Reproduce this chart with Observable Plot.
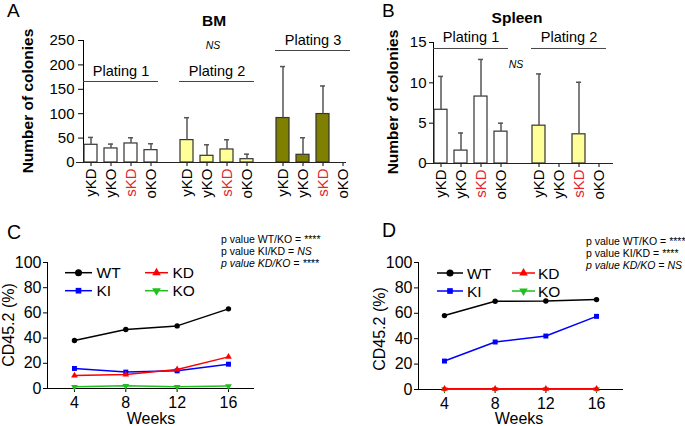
<!DOCTYPE html>
<html><head><meta charset="utf-8">
<script src="https://cdn.jsdelivr.net/npm/d3@7"></script>
<script src="https://cdn.jsdelivr.net/npm/@observablehq/plot@0.6"></script>
<style>
body{margin:0;background:#fff;}
#root{position:relative;width:685px;height:426px;overflow:hidden;background:#fff;font-family:"Liberation Sans",Arial,Helvetica,sans-serif;}
.layer{position:absolute;}
</style></head><body><div id="root"></div>
<script>
// ---------------- data ----------------
const genotypes = ["yKD", "yKO", "sKD", "oKO"];
const bmPlatings = ["Plating 1", "Plating 2", "Plating 3"];
const bmMean = [36.3, 28.8, 39.0, 25.3,   45.9, 13.7, 26.7, 6.8,   91.1, 15.8, 99.3, 0];
const bmSD   = [15.1,  8.9, 11.7, 13.1,   45.9, 22.6, 19.9, 10.3,  105.5, 34.9, 57.5, 0];
const spPlatings = ["Plating 1", "Plating 2"];
const spMean = [6.66, 1.6, 8.3, 3.95,   4.69, 0, 3.62, 0];
const spSD   = [4.14, 2.18, 4.6, 1.05,  6.41, 0, 6.45, 0];
const bmTicks = [0, 50, 100, 150, 200, 250];
const spTicks = [0, 5, 10, 15];

const weeks = [4, 8, 12, 16];
const seriesNames = ["WT", "KD", "KI", "KO"];
const cWT = [38.1, 46.8, 49.7, 63.2];
const cKD = [10.3, 11.1, 15.1, 25.1];
const cKI = [15.9, 13.0, 14.0, 19.3];
const cKO = [1.3, 2.1, 1.3, 1.9];
const dWT = [58.2, 69.5, 69.7, 70.8];
const dKD = [0.5, 0.5, 0.5, 0.5];
const dKI = [22.4, 37.4, 42.1, 57.6];
const dKO = [0.3, 0.3, 0.3, 0.3];
const pctTicks = [0, 20, 40, 60, 80, 100];

const pValuesC = [["p value WT/KO = ", "****", false], ["p value KI/KD = ", "NS", false], ["p value KD/KO = ", "****", true]];
const pValuesD = [["p value WT/KO = ", "****", false], ["p value KI/KD = ", "****", false], ["p value KD/KO = ", "NS", true]];

// ---------------- styles ----------------
const FONT = '"Liberation Sans", Arial, Helvetica, sans-serif';
const RED_LABEL = "#e3262d";
const platingColor = {"Plating 1": "#ffffff", "Plating 2": "#ffff99", "Plating 3": "#808000"};
const triangleDown = {
  draw(context, size) {
    const y = -Math.sqrt(size / (Math.sqrt(3) * 3));
    context.moveTo(0, -y * 2);
    context.lineTo(-Math.sqrt(3) * y, y);
    context.lineTo(Math.sqrt(3) * y, y);
    context.closePath();
  }
};
const seriesColor = {WT: "#000000", KD: "#ff0000", KI: "#0000ff", KO: "#1fbf1f"};
const seriesSymbol = {WT: d3.symbolCircle, KD: d3.symbolTriangle, KI: d3.symbolSquare, KO: triangleDown};
const seriesR = {WT: 2.7, KD: 2.5, KI: 2.8, KO: 2.5};

const root = document.getElementById("root");
function place(node, left, top) {
  const w = document.createElement("div");
  w.className = "layer";
  w.style.left = left + "px";
  w.style.top = top + "px";
  w.appendChild(node);
  root.appendChild(w);
}

function barRows(platings, means, sds) {
  return means.map((m, i) => ({plating: platings[Math.floor(i / 4)], name: genotypes[i % 4], mean: m, sd: sds[i]}));
}

function barPanel(o) {
  const data = barRows(o.platings, o.means, o.sds);
  const style = {fontFamily: FONT, fontSize: "15px", color: "#000", background: "transparent", overflow: "visible"};
  const main = Plot.plot({
    width: o.width, height: o.height,
    marginLeft: o.mL, marginRight: o.mR, marginTop: o.mT, marginBottom: o.mB,
    style,
    fx: {domain: o.platings, paddingInner: o.fxIn, paddingOuter: o.fxOut, axis: null, label: null},
    x: {domain: genotypes, paddingInner: 0.35, paddingOuter: 0, tickSize: 4, tickFormat: () => "", label: null},
    y: {domain: o.yDomain, ticks: o.yTicks, tickSize: o.tickSize, tickPadding: o.tickPad, line: true, label: null},
    marks: [
      Plot.barY(data.filter(d => d.mean > 0), {fx: "plating", x: "name", y: "mean", fill: d => platingColor[d.plating], stroke: "#333", strokeWidth: 1.2}),
      Plot.ruleX(data.filter(d => d.sd > 0), {fx: "plating", x: "name", y1: "mean", y2: d => d.mean + d.sd, stroke: "#555", strokeWidth: 1.5}),
      Plot.tickY(data.filter(d => d.sd > 0), {fx: "plating", x: "name", y: d => d.mean + d.sd, stroke: "#555", strokeWidth: 1.5, insetLeft: 4, insetRight: 4}),
      Plot.text(data, {fx: "plating", x: "name", y: d => 0, text: "name", rotate: -90, textAnchor: "end", dy: 6, fontSize: 15, fill: d => d.name === "sKD" ? RED_LABEL : "#000"}),
      Plot.ruleY(o.brackets, {fx: "plating", y: "level", stroke: "#444", strokeWidth: 1}),
      Plot.text(o.brackets, {fx: "plating", y: "level", text: "plating", dy: o.bracketDy, fontSize: 14.5, fill: "#000"})
    ]
  });
  place(main, o.left, o.top);
  const base = Plot.plot({
    width: o.width, height: o.height,
    marginLeft: o.mL, marginRight: o.width - (o.axisEnd - o.left), marginTop: o.mT, marginBottom: o.mB,
    style,
    x: {domain: [0, 1], axis: null},
    y: {domain: o.yDomain, axis: null},
    marks: [Plot.ruleY([0], {stroke: "#222", strokeWidth: 1.2})]
  });
  place(base, o.left, o.top);
}

barPanel({
  platings: bmPlatings, means: bmMean, sds: bmSD, yDomain: [0, 250], yTicks: bmTicks,
  left: 0, top: 0, width: 360, height: 210, mL: 76, mR: 3, mT: 40, mB: 48,
  fxIn: 0.2156, fxOut: 0.0675, axisEnd: 346, tickSize: 5, tickPad: 4, bracketDy: -10,
  brackets: [{plating: "Plating 1", level: 166}, {plating: "Plating 2", level: 166}, {plating: "Plating 3", level: 229.5}]
});
barPanel({
  platings: spPlatings, means: spMean, sds: spSD, yDomain: [0, 15], yTicks: spTicks,
  left: 350, top: 0, width: 335, height: 210, mL: 76, mR: 72, mT: 42, mB: 47,
  fxIn: 0.23, fxOut: 0.069, axisEnd: 613, tickSize: 4, tickPad: 3, bracketDy: -11,
  brackets: [{plating: "Plating 1", level: 14.26}, {plating: "Plating 2", level: 14.26}]
});

function linePanel(o) {
  const values = o.values;
  const rows = seriesNames.flatMap(s => weeks.map((w, i) => ({series: s, week: w, value: values[s][i]})));
  const order = ["KO", "KI", "KD", "WT"];
  const marks = [];
  for (const s of order) {
    const sub = rows.filter(d => d.series === s);
    marks.push(Plot.line(sub, {x: "week", y: "value", stroke: seriesColor[s], strokeWidth: 1.5}));
    marks.push(Plot.dot(sub, {x: "week", y: "value", symbol: seriesSymbol[s], fill: seriesColor[s], r: seriesR[s]}));
  }
  const chart = Plot.plot({
    width: o.width, height: o.height,
    marginLeft: o.mL, marginRight: o.mR, marginTop: o.mT, marginBottom: o.mB,
    style: {fontFamily: FONT, fontSize: "16px", color: "#000", background: "transparent", overflow: "visible"},
    x: {domain: o.xDomain, ticks: weeks, tickSize: 4, tickPadding: 4, line: true, label: null},
    y: {domain: [0, 100], ticks: pctTicks, tickSize: 4, tickPadding: 2, line: true, label: null},
    marks
  });
  place(chart, o.left, o.top);
}

linePanel({values: {WT: cWT, KD: cKD, KI: cKI, KO: cKO}, left: 0, top: 210, width: 350, height: 216,
  mL: 47, mR: 97, mT: 52, mB: 38, xDomain: [1.9, 17.95]});
linePanel({values: {WT: dWT, KD: dKD, KI: dKI, KO: dKO}, left: 350, top: 210, width: 335, height: 216,
  mL: 68, mR: 63, mT: 52, mB: 37, xDomain: [1.95, 18.05]});

// ---------------- annotations (titles, labels, legends) ----------------
const svg = d3.create("svg").attr("width", 685).attr("height", 426)
  .style("position", "absolute").style("left", 0).style("top", 0)
  .style("font-family", FONT).style("pointer-events", "none");

function txt(s, x, y, size, opts = {}) {
  const t = svg.append("text").attr("x", x).attr("y", y).attr("font-size", size).attr("fill", "#000")
    .attr("text-anchor", opts.anchor || "start").text(s);
  if (opts.bold) t.attr("font-weight", "bold");
  if (opts.italic) t.attr("font-style", "italic");
  return t;
}
function rotTxt(s, cx, cy, size, bold) {
  const t = svg.append("text").attr("transform", `translate(${cx},${cy}) rotate(-90)`)
    .attr("text-anchor", "middle").attr("dy", "0.35em").attr("font-size", size).attr("fill", "#000").text(s);
  if (bold) t.attr("font-weight", "bold");
}

txt("A", 7, 17.3, 19);
txt("B", 382, 17.3, 19);
txt("C", 7, 239, 19.5);
txt("D", 382, 237, 19.5);
txt("BM", 214, 26, 15.5, {anchor: "middle", bold: true});
txt("Spleen", 517, 23, 15.5, {anchor: "middle", bold: true});
txt("NS", 213, 48.5, 10.5, {anchor: "middle", italic: true});
txt("NS", 516, 68, 10.5, {anchor: "middle", italic: true});
rotTxt("Number of colonies", 28, 101, 15.5, true);
rotTxt("Number of colonies", 393, 102, 15.5, true);
txt("Weeks", 151, 423.5, 16, {anchor: "middle"});
txt("Weeks", 519, 423.5, 16, {anchor: "middle"});
rotTxt("CD45.2 (%)", 8, 325, 16, false);
rotTxt("CD45.2 (%)", 379.5, 329, 16, false);

function pvals(list, x, ys) {
  list.forEach(([a, b, allItalic], i) => {
    const t = svg.append("text").attr("x", x).attr("y", ys[i]).attr("font-size", 10.5).attr("fill", "#000");
    if (allItalic) t.attr("font-style", "italic");
    t.append("tspan").text(a);
    const s2 = t.append("tspan").text(b);
    if (b === "NS") s2.attr("font-style", "italic");
  });
}
pvals(pValuesC, 221, [242.5, 254.5, 266.5]);
pvals(pValuesD, 586, [245, 257, 268.5]);

function legend(items) {
  for (const [s, x1, x2, y, tx] of items) {
    svg.append("line").attr("x1", x1).attr("x2", x2).attr("y1", y).attr("y2", y)
      .attr("stroke", seriesColor[s]).attr("stroke-width", 1.5);
    const r = s === "WT" ? 3.5 : 3.2;
    svg.append("path").attr("d", d3.symbol(seriesSymbol[s], Math.PI * r * r)())
      .attr("transform", `translate(${(x1 + x2) / 2},${y})`).attr("fill", seriesColor[s]);
    txt(s, tx, y + 5.5, 15.5);
  }
}
legend([["WT", 65, 92, 272.7, 96.5], ["KI", 65, 92, 290.7, 96.5], ["KD", 145, 168, 272.7, 172.5], ["KO", 145, 168, 290.7, 172.5]]);
legend([["WT", 437, 463, 273, 467], ["KI", 437, 463, 291, 467], ["KD", 512, 535, 273, 538], ["KO", 512, 535, 291, 538]]);

root.appendChild(svg.node());
</script></body></html>
